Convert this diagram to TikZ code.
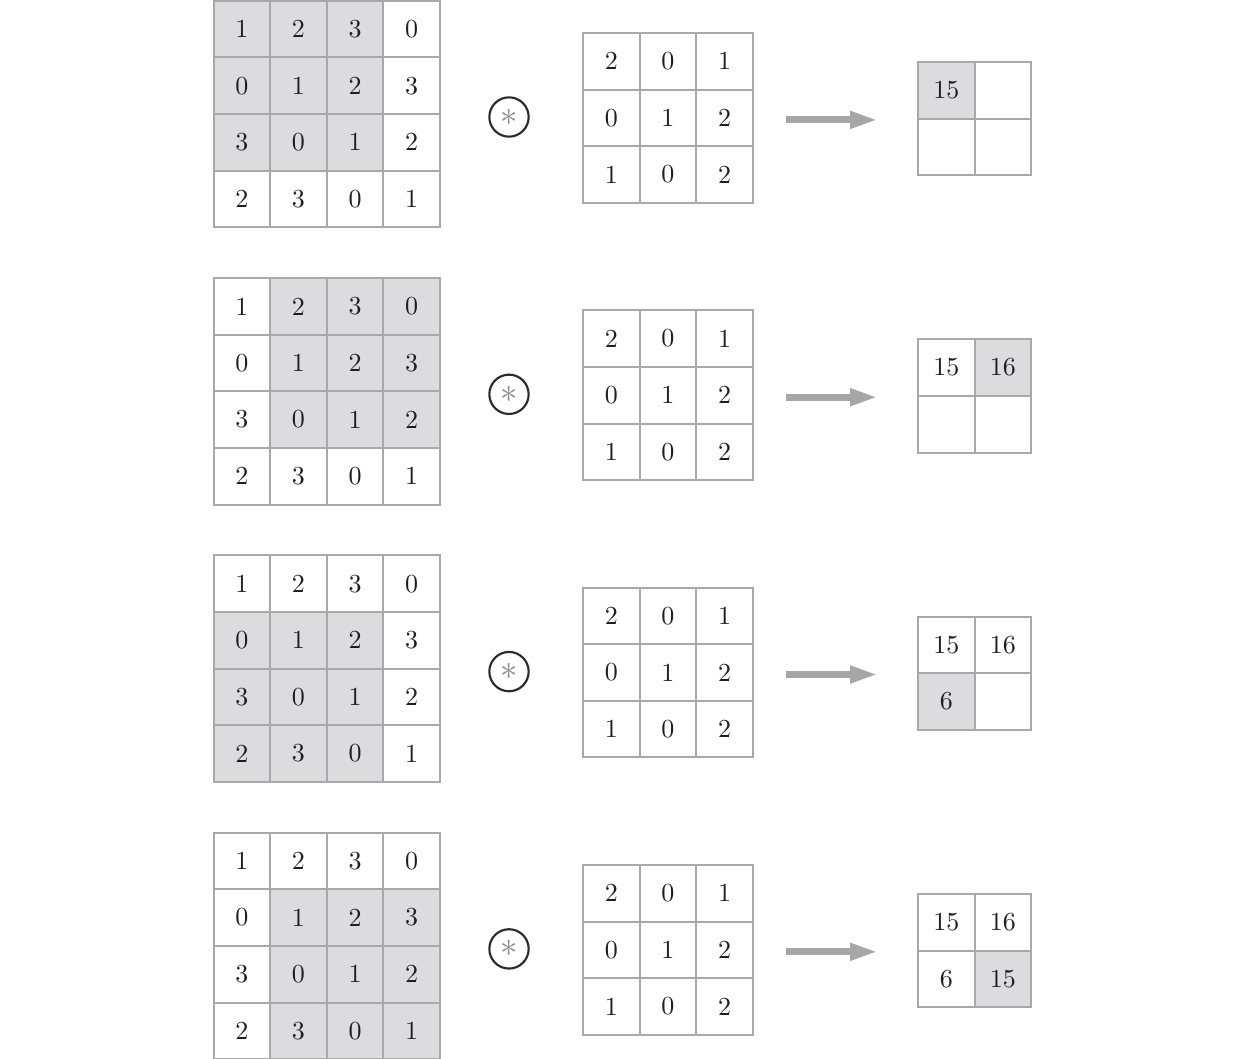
\documentclass[tikz,border=0pt]{standalone}
\usetikzlibrary{arrows.meta}
\definecolor{gridgray}{HTML}{A9A9A9}
\definecolor{hlgray}{HTML}{DCDCDE}
\definecolor{txt}{HTML}{1E1E1E}
\definecolor{arrgray}{HTML}{A6A6A6}
\definecolor{astgray}{HTML}{8A8A8A}
\definecolor{circc}{HTML}{2A2A2A}
\newcommand{\dg}[1]{\scalebox{1.95}{#1}}
\begin{document}
\begin{tikzpicture}[x=0.75pt,y=-0.75pt,
  cell/.style={draw=gridgray, line width=1.5pt, minimum size=42.45pt, inner sep=0pt, outer sep=0pt,
    font=\fontsize{10}{12}\selectfont, text=txt, anchor=north west},
  opcirc/.style={circle, draw=circc, line width=1.6pt, minimum size=29.5pt, inner sep=0pt},
  astnode/.style={text=astgray, inner sep=0pt, font=\fontsize{10}{12}\selectfont},
  arr/.style={draw=arrgray, line width=5.25pt, -{Triangle[length=21pt,width=12pt]}}]
\useasboundingbox (0,0) rectangle (1246,1059);
\foreach \k/\rk/\ck in {0/0/0,1/0/1,2/1/0,3/1/1}{
  \pgfmathsetmacro\yo{277.3*\k}
  % input grid
  \foreach \r/\vals in {0/{1,2,3,0},1/{0,1,2,3},2/{3,0,1,2},3/{2,3,0,1}}{
    \foreach \v [count=\c from 0] in \vals {
      \pgfmathtruncatemacro\h{(\r>=\rk)&&(\r<=\rk+2)&&(\c>=\ck)&&(\c<=\ck+2)}
      \ifnum\h=1 \def\fillc{hlgray}\else\def\fillc{white}\fi
      \node[cell, fill=\fillc] (I\k-\r-\c) at (213.5+56.6*\c, 0.8+\yo+56.6*\r) {\dg{\v}};
    }
  }
  % kernel
  \foreach \r/\vals in {0/{2,0,1},1/{0,1,2},2/{1,0,2}}{
    \foreach \v [count=\c from 0] in \vals {
      \node[cell, fill=white] (K\k-\r-\c) at (583+56.6*\c, 33+\yo+56.6*\r) {\dg{\v}};
    }
  }
  % output
  \foreach \n/\v in {0/15,1/16,2/6,3/15}{
    \pgfmathtruncatemacro\r{int(\n/2)}
    \pgfmathtruncatemacro\c{mod(\n,2)}
    \ifnum\n>\k \def\tx{}\else \def\tx{\dg{\v}}\fi
    \ifnum\n=\k \def\fillc{hlgray}\else\def\fillc{white}\fi
    \node[cell, fill=\fillc] (O\k-\r-\c) at (918+56.6*\c, 62+\yo+56.6*\r) {\tx};
  }
  % operator
  \node[opcirc] (C\k) at (509, 117+\yo) {};
  \node[astnode] (A\k) at (C\k.center) {\scalebox{2.6}{$\ast$}};
  % arrow
  \draw[arr] ([xshift=24.75pt,yshift=-1.5pt]K\k-1-2.east) -- ([xshift=-30pt,yshift=-1.5pt]K\k-1-2.east -| O\k-1-0.west);
}
\end{tikzpicture}
\end{document}
